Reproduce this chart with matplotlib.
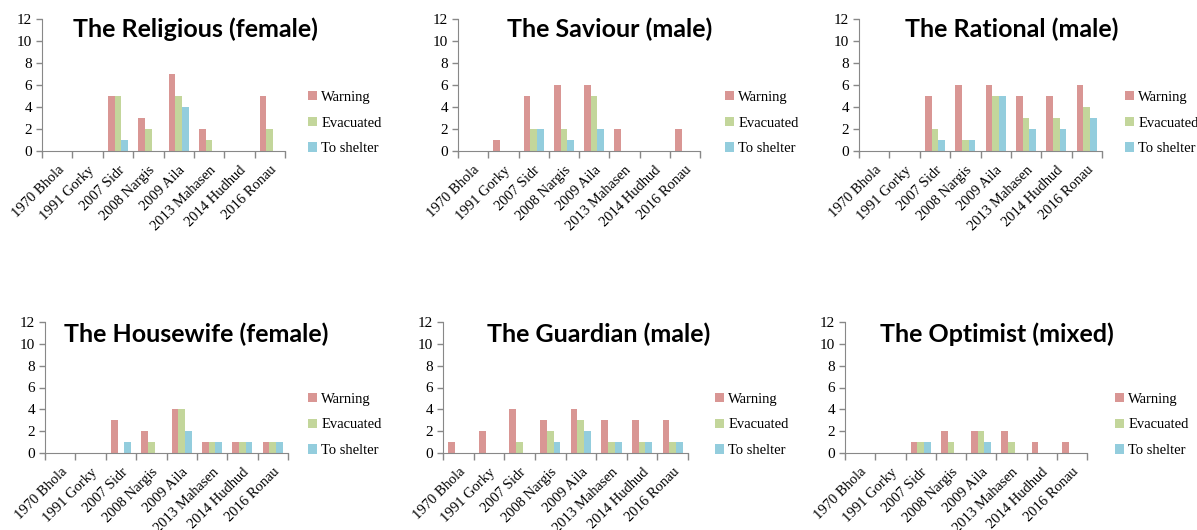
import numpy as np
import matplotlib
matplotlib.use('Agg')
import matplotlib.pyplot as plt

W, H = 1197, 530

cyclones = ['1970 Bhola', '1991 Gorky', '2007 Sidr', '2008 Nargis',
            '2009 Aila', '2013 Mahasen', '2014 Hudhud', '2016 Ronau']
series_names = ['Warning', 'Evacuated', 'To shelter']
series_colors = ['#d99694', '#c3d69b', '#93cddd']

titles = ['The Religious (female)', 'The Saviour (male)', 'The Rational (male)',
          'The Housewife (female)', 'The Guardian (male)', 'The Optimist (mixed)']

religious_warning = [0, 0, 5, 3, 7, 2, 0, 5]
religious_evacuated = [0, 0, 5, 2, 5, 1, 0, 2]
religious_shelter = [0, 0, 1, 0, 4, 0, 0, 0]

saviour_warning = [0, 1, 5, 6, 6, 2, 0, 2]
saviour_evacuated = [0, 0, 2, 2, 5, 0, 0, 0]
saviour_shelter = [0, 0, 2, 1, 2, 0, 0, 0]

rational_warning = [0, 0, 5, 6, 6, 5, 5, 6]
rational_evacuated = [0, 0, 2, 1, 5, 3, 3, 4]
rational_shelter = [0, 0, 1, 1, 5, 2, 2, 3]

housewife_warning = [0, 0, 3, 2, 4, 1, 1, 1]
housewife_evacuated = [0, 0, 0, 1, 4, 1, 1, 1]
housewife_shelter = [0, 0, 1, 0, 2, 1, 1, 1]

guardian_warning = [1, 2, 4, 3, 4, 3, 3, 3]
guardian_evacuated = [0, 0, 1, 2, 3, 1, 1, 1]
guardian_shelter = [0, 0, 0, 1, 2, 1, 1, 1]

optimist_warning = [0, 0, 1, 2, 2, 2, 1, 1]
optimist_evacuated = [0, 0, 1, 1, 2, 1, 0, 0]
optimist_shelter = [0, 0, 1, 0, 1, 0, 0, 0]

panel_data = [
    (religious_warning, religious_evacuated, religious_shelter),
    (saviour_warning, saviour_evacuated, saviour_shelter),
    (rational_warning, rational_evacuated, rational_shelter),
    (housewife_warning, housewife_evacuated, housewife_shelter),
    (guardian_warning, guardian_evacuated, guardian_shelter),
    (optimist_warning, optimist_evacuated, optimist_shelter),
]

# pixel layout: (left, right, top, bottom) of plot area, title centre x/y, legend x
boxes = [(42, 285, 19, 151), (458, 700, 19, 151), (859, 1102, 19, 151),
         (45, 288, 322, 453), (443, 688, 322, 453), (845, 1087, 322, 453)]
title_pos = [(195, 29), (610, 29), (1012, 29), (196, 334), (599, 334), (997, 334)]
legend_x = [308, 725, 1125, 308, 715, 1115]

serif = ['Liberation Serif', 'DejaVu Serif']
fig = plt.figure(figsize=(W / 100, H / 100), dpi=100)

x = np.arange(len(cyclones))
bw = 0.22
for i, (l, r, t, b) in enumerate(boxes):
    ax = fig.add_axes([l / W, 1 - b / H, (r - l) / W, (b - t) / H])
    for j, vals in enumerate(panel_data[i]):
        ax.bar(x + (j - 1) * bw, vals, width=bw, color=series_colors[j],
               label=series_names[j])
    ax.set_xlim(-0.5, len(cyclones) - 0.5)
    ax.set_ylim(0, 12)
    ax.set_yticks(range(0, 13, 2))
    ax.set_xticks(x)
    ax.set_xticks(np.arange(len(cyclones) + 1) - 0.5, minor=True)
    ax.set_xticklabels(cyclones, rotation=45, ha='right', rotation_mode='anchor',
                       family=serif, fontsize=10.5)
    for lab in ax.get_yticklabels():
        lab.set_family(serif)
        lab.set_fontsize(11)
    ax.tick_params(axis='x', which='major', length=0, pad=9)
    ax.tick_params(axis='x', which='minor', length=5, color='#888888', width=1)
    ax.tick_params(axis='y', length=4, color='#888888', width=1, pad=3)
    for s in ['top', 'right']:
        ax.spines[s].set_visible(False)
    for s in ['left', 'bottom']:
        ax.spines[s].set_color('#888888')
    ax.set_facecolor('none')

    ax.legend(loc='center left', bbox_to_anchor=(legend_x[i] / W, 1 - (b - 28) / H),
              bbox_transform=fig.transFigure, frameon=False,
              prop={'family': serif, 'size': 10.5}, handlelength=0.6,
              handleheight=0.6, handletextpad=0.3, labelspacing=0.87,
              borderaxespad=0, borderpad=0)

    tx, ty = title_pos[i]
    fig.text(tx / W, 1 - ty / H, titles[i], ha='center', va='center',
             family=['Lato', 'DejaVu Sans'], fontweight='bold', fontsize=18)

fig.savefig('out.png', dpi=100)
